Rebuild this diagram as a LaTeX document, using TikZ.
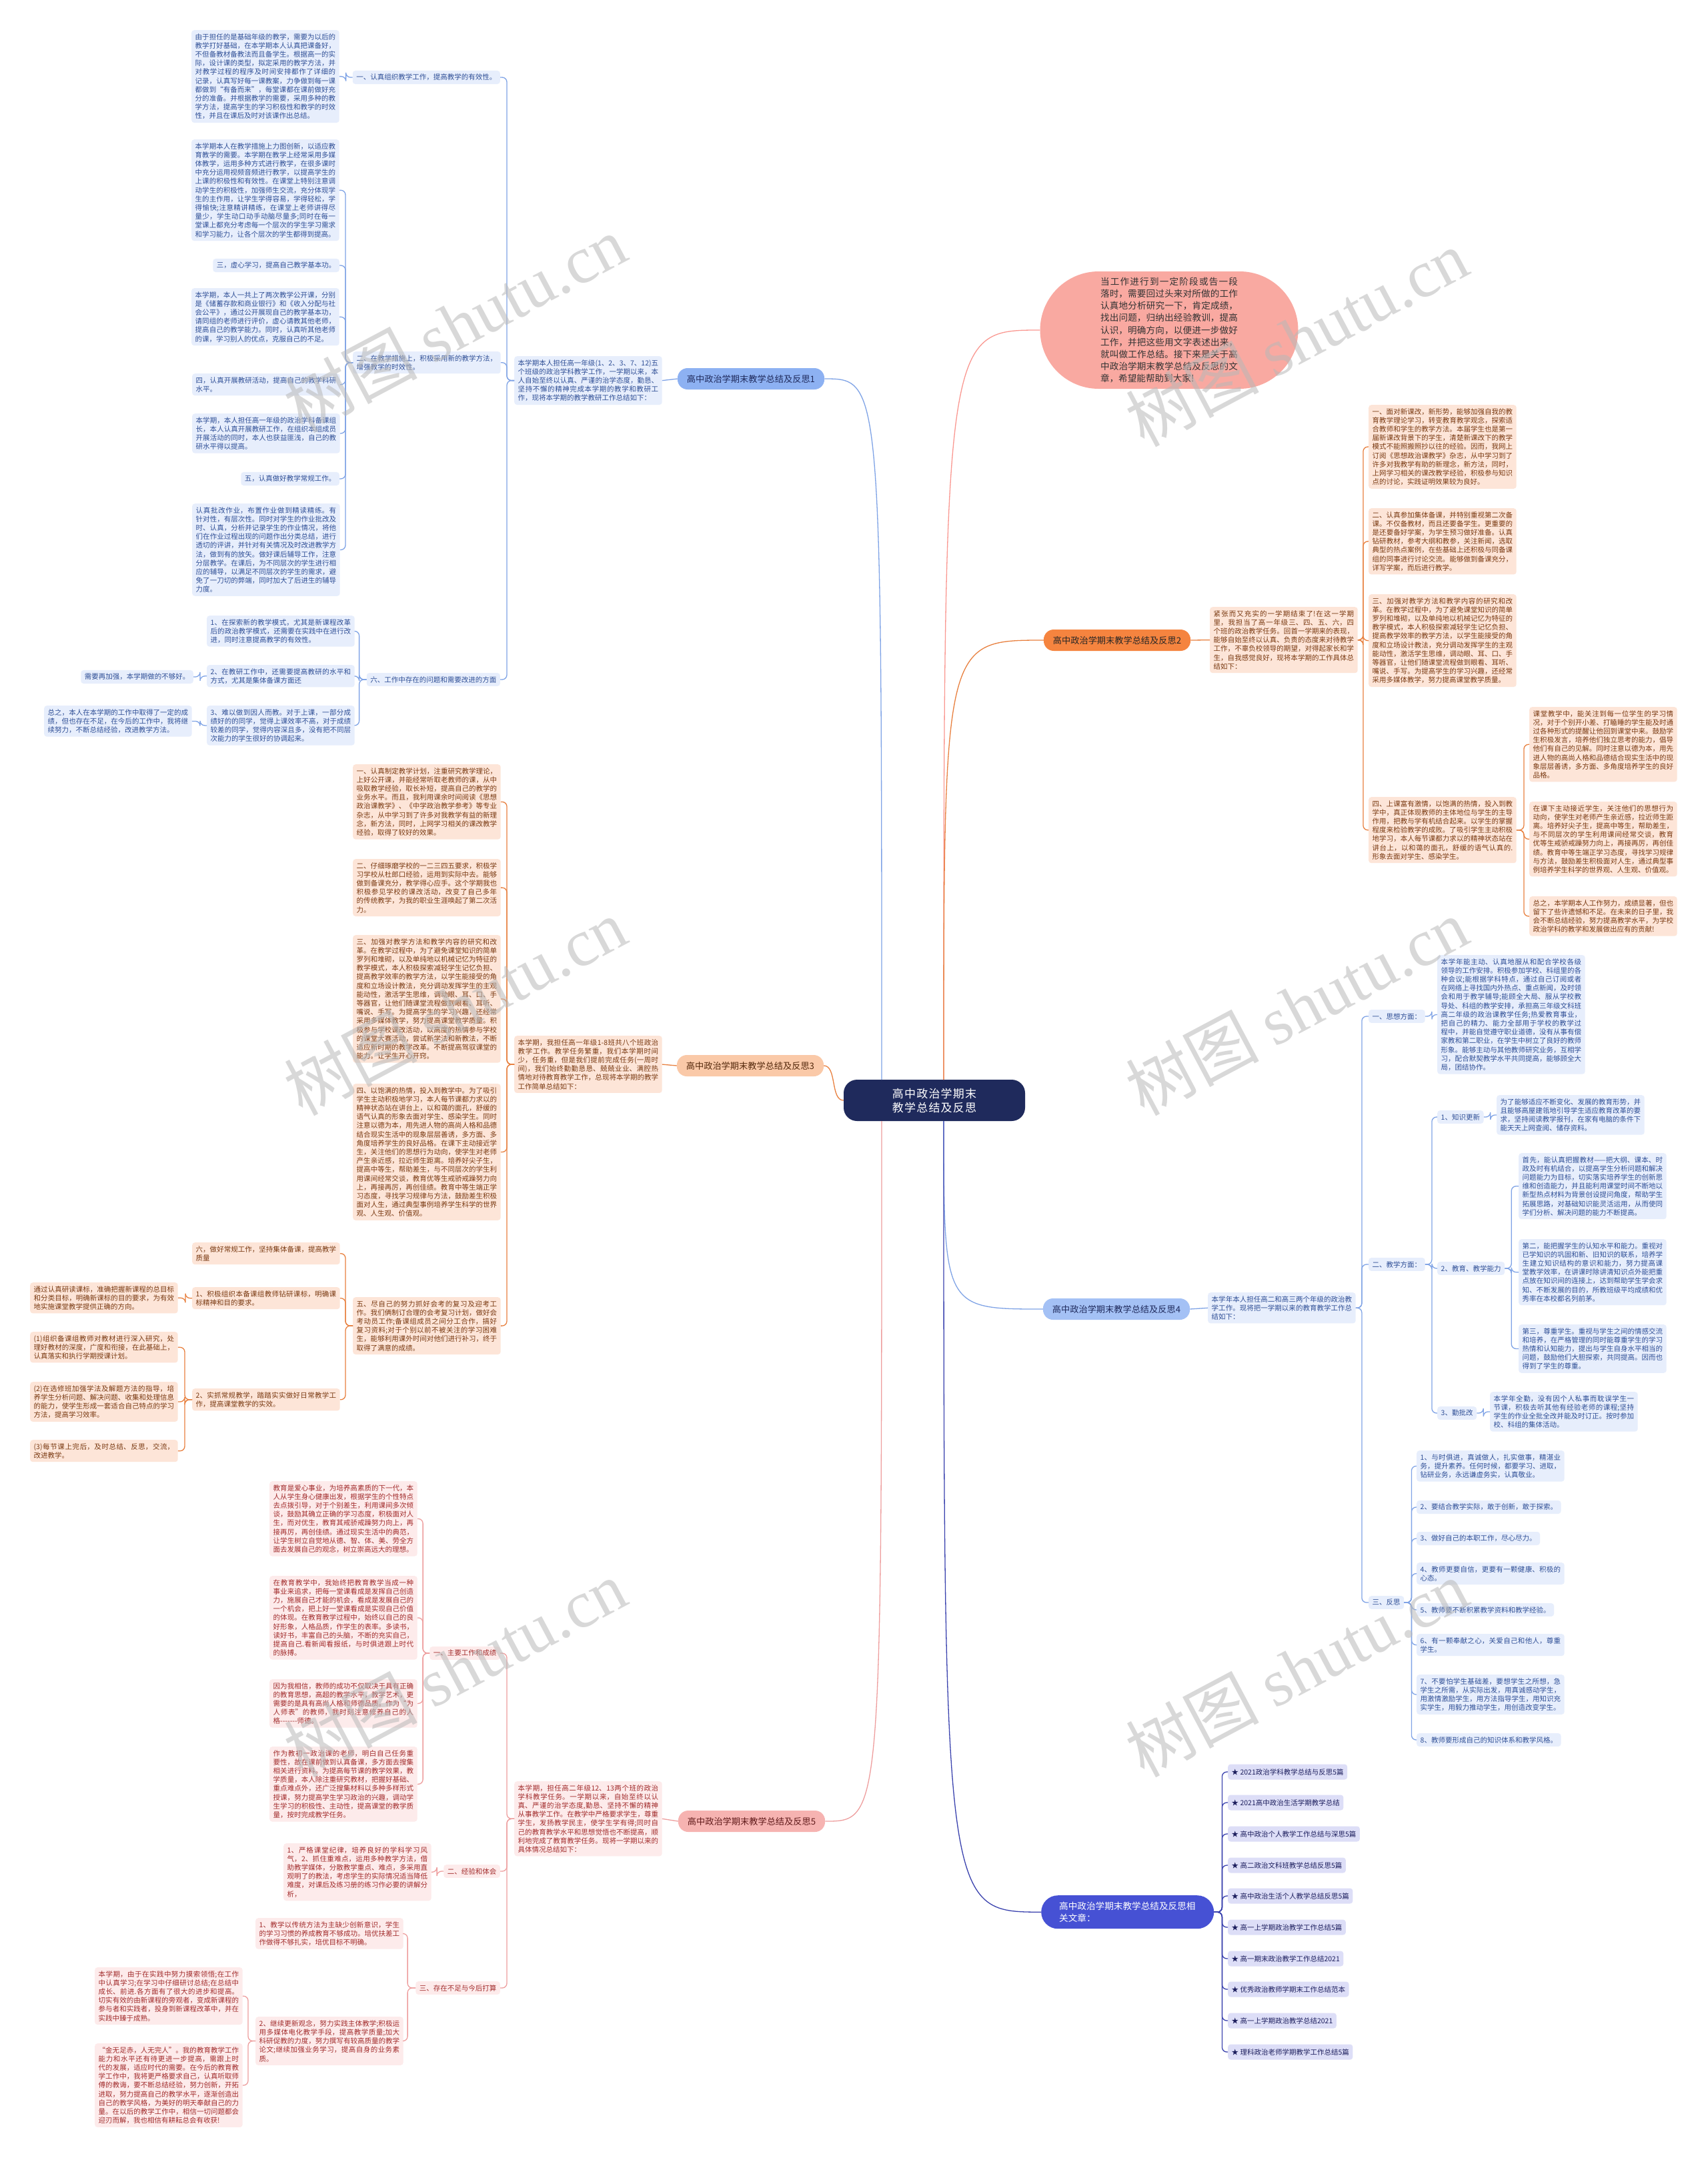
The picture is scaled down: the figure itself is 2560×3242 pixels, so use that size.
\documentclass[tikz,border=0pt]{standalone}
\usepackage{fontspec}
\setmainfont{Noto Sans CJK SC}
\newfontfamily\wmlatin{Liberation Serif}
\XeTeXlinebreaklocale "zh"
\XeTeXlinebreakskip = 0pt plus 1pt
\definecolor{bLine}{HTML}{7FA3E6}
\definecolor{bFill}{HTML}{E7EEFC}
\definecolor{bText}{HTML}{2F4F96}
\definecolor{bLab}{HTML}{8DB1F2}
\definecolor{oLine}{HTML}{E8803F}
\definecolor{oFill}{HTML}{FDE5D8}
\definecolor{oText}{HTML}{7A3A12}
\definecolor{oLab}{HTML}{F5843F}
\definecolor{oLabB}{HTML}{FAC9A8}
\definecolor{pLine}{HTML}{EE9E9E}
\definecolor{pFill}{HTML}{FDEBEB}
\definecolor{pText}{HTML}{A22C2C}
\definecolor{pLab}{HTML}{F6B3B1}
\definecolor{nav}{HTML}{1F2A5C}
\definecolor{rLab}{HTML}{4651D4}
\definecolor{rFill}{HTML}{DDDEF7}
\definecolor{rText}{HTML}{1D1F5E}
\definecolor{rLine}{HTML}{3A42AE}
\definecolor{bubc}{HTML}{F9A9A1}
\definecolor{wmc}{HTML}{B8B8B8}
\newcommand\fsA{\fontsize{10.5pt}{13.2pt}\selectfont}
\newcommand\fsL{\fontsize{13.2pt}{16pt}\selectfont}
\newcommand\fsB{\fontsize{13.6pt}{18.2pt}\selectfont}
\newcommand\fsC{\fontsize{17pt}{21pt}\selectfont}
\newcommand\fsW{\fontsize{100pt}{100pt}\selectfont}
\newcommand\lcn[4]{\draw[#1] (#2.west) -- ++(-#3,0) |- (#4.east);}
\newcommand\rcn[4]{\draw[#1] (#2.east) -- ++(#3,0) |- (#4.west);}
\tikzset{
  bx/.style={rounded corners=4pt, inner xsep=5.5pt, inner ysep=5pt, text width=210.5pt, align=justify, anchor=north west, font=\fsA},
  sl/.style={rounded corners=4pt, inner xsep=5.5pt, inner ysep=5pt, font=\fsA},
  cb/.style={fill=bFill, text=bText},
  co/.style={fill=oFill, text=oText},
  cp/.style={fill=pFill, text=pText},
  cr/.style={fill=rFill, text=rText, minimum height=23pt},
  lb/.style={draw=bLine, line width=1.3pt, rounded corners=7pt},
  lo/.style={draw=oLine, line width=1.3pt, rounded corners=7pt},
  lp/.style={draw=pLine, line width=1.3pt, rounded corners=7pt},
  lr/.style={draw=rLine, line width=1.3pt, rounded corners=7pt},
  brl/.style={rounded corners=15pt, inner xsep=14pt, inner ysep=8pt, font=\fsL, minimum height=32pt},
  ctr/.style={fill=nav, text=white, rounded corners=20pt, text width=206pt, align=center, inner xsep=33pt, inner ysep=6pt, minimum height=62pt, font=\fsC},
  wm/.style={rotate=28, text=wmc, opacity=0.55, font=\fsW}
}
\begin{document}
\begin{tikzpicture}[x=1pt,y=-1pt]
\fill[white] (0,0) rectangle (2560,3242);
\useasboundingbox (0,0) rectangle (2560,3242);

% ---------- center ----------
\node[ctr] (c) at (1401,1650) {高中政治学期末教学总结及反思};
\coordinate (cTL) at (1322,1619);
\coordinate (cBL) at (1322,1681);
\coordinate (cTR) at (1415,1619);
\coordinate (cBR) at (1415,1681);

% ---------- bubble ----------
\node[fill=bubc, text=black!80, rounded corners=88pt, minimum width=387pt, minimum height=176pt, text width=206pt, align=justify, font=\fsB, inner sep=0pt] (bub) at (1753,495) {当工作进行到一定阶段或告一段落时，需要回过头来对所做的工作认真地分析研究一下，肯定成绩，找出问题，归纳出经验教训，提高认识，明确方向，以便进一步做好工作，并把这些用文字表述出来，就叫做工作总结。接下来是关于高中政治学期末教学总结及反思的文章，希望能帮助到大家!};

% ---------- branch 1 ----------
\node[brl, fill=bLab, text=nav] (lab1) at (1126,568) {高中政治学期末教学总结及反思1};
\node[bx,cb] (intro1) at (771,534) {本学期本人担任高一年级(1、2、3、7、12)五个班级的政治学科教学工作，一学期以来，本人自始至终以认真、严谨的治学态度，勤恳、坚持不懈的精神完成本学期的教学和教研工作，现将本学期的教学教研工作总结如下：};
\node[sl,cb,anchor=east] (L1) at (750,116) {一、认真组织教学工作，提高教学的有效性。};
\node[bx,cb] (L2) at (529,527) {二、在教学措施上，积极采用新的教学方法，增强教学的时效性。};
\node[sl,cb,anchor=east] (L6) at (750,1019) {六、工作中存在的问题和需要改进的方面};
\node[bx,cb] (A1) at (287,45) {由于担任的是基础年级的教学，需要为以后的教学打好基础，在本学期本人认真把课备好，不但备教材备教法而且备学生。根据高一的实际，设计课的类型，拟定采用的教学方法，并对教学过程的程序及时间安排都作了详细的记录，认真写好每一课教案，力争做到每一课都做到“有备而来”，每堂课都在课前做好充分的准备。并根据教学的需要，采用多种的教学方法，提高学生的学习积极性和教学的时效性，并且在课后及时对该课作出总结。};
\node[bx,cb] (A2) at (287,209) {本学期本人在教学措施上力图创新，以适应教育教学的需要。本学期在教学上经常采用多媒体教学，运用多种方式进行教学，在很多课时中充分运用视频音频进行教学，以提高学生的上课的积极性和有效性。在课堂上特别注意调动学生的积极性，加强师生交流，充分体现学生的主作用，让学生学得容易，学得轻松，学得愉快;注意精讲精练，在课堂上老师讲得尽量少，学生动口动手动脑尽量多;同时在每一堂课上都充分考虑每一个层次的学生学习需求和学习能力，让各个层次的学生都得到提高。};
\node[sl,cb,anchor=east] (a3) at (509,398) {三，虚心学习，提高自己教学基本功。};
\node[bx,cb] (A4) at (287,432) {本学期，本人一共上了两次教学公开课，分别是《储蓄存款和商业银行》和《收入分配与社会公平》，通过公开展现自己的教学基本功，请同组的老师进行评价，虚心请教其他老师，提高自己的教学能力。同时，认真听其他老师的课，学习别人的优点，克服自己的不足。};
\node[bx,cb] (a5) at (288,560) {四，认真开展教研活动，提高自己的教学科研水平。};
\node[bx,cb] (B5) at (288,620) {本学期，本人担任高一年级的政治学科备课组长，本人认真开展教研工作，在组织本组成员开展活动的同时，本人也获益匪浅，自己的教研水平得以提高。};
\node[sl,cb,anchor=east] (b6) at (509,718) {五，认真做好教学常规工作。};
\node[bx,cb] (B7) at (288,755) {认真批改作业，布置作业做到精读精练。有针对性，有层次性。同时对学生的作业批改及时、认真，分析并记录学生的作业情况，将他们在作业过程出现的问题作出分类总结，进行透切的评讲，并针对有关情况及时改进教学方法，做到有的放矢。做好课后辅导工作，注意分层教学。在课后，为不同层次的学生进行相应的辅导，以满足不同层次的学生的需求，避免了一刀切的弊端，同时加大了后进生的辅导力度。};
\node[bx,cb] (C1) at (310,923) {1、在探索新的教学模式，尤其是新课程改革后的政治教学模式，还需要在实践中在进行改进，同时注意提高教学的有效性。};
\node[bx,cb] (C2) at (310,997) {2、在教研工作中，还需要提高教研的水平和方式，尤其是集体备课方面还};
\node[bx,cb] (C3) at (310,1058) {3、难以做到因人而教。对于上课，一部分成绩好的的同学，觉得上课效率不高，对于成绩较差的同学，觉得内容深且多，没有把不同层次能力的学生很好的协调起来。};
\node[sl,cb,anchor=east] (C2L) at (290,1015) {需要再加强，本学期做的不够好。};
\node[bx,cb] (C3L) at (66,1058) {总之，本人在本学期的工作中取得了一定的成绩，但也存在不足，在今后的工作中，我将继续努力，不断总结经验，改进教学方法。};

\draw[lb] (lab1.east) .. controls (1322,568) .. (cTL);
\draw[lb] (intro1.east) -- (lab1.west);
\foreach \c in {L1,L2,L6} {\lcn{lb}{intro1}{11}{\c}}
\lcn{lb}{L1}{10}{A1}
\foreach \c in {A2,a3,A4,a5,B5,b6,B7} {\lcn{lb}{L2}{11}{\c}}
\foreach \c in {C1,C2,C3} {\lcn{lb}{L6}{11}{\c}}
\lcn{lb}{C2}{10}{C2L}
\lcn{lb}{C3}{10}{C3L}

% ---------- branch 3 ----------
\node[brl, fill=oLabB, text=oText!70!black] (lab3) at (1125,1598) {高中政治学期末教学总结及反思3};
\node[bx,co] (intro3) at (771,1553) {本学期，我担任高一年级1-8班共八个班政治教学工作。教学任务繁重，我们本学期时间少，任务重，但是我们提前完成任务(一周时间)，我们始终勤勤恳恳、兢兢业业、满腔热情地对待教育教学工作，总现将本学期的教学工作简单总结如下：};
\node[bx,co] (D1) at (529,1146) {一、认真制定教学计划，注重研究教学理论，上好公开课，并能经常听取老教师的课，从中吸取教学经验，取长补短，提高自己的教学的业务水平。而且，我利用课余时间阅读《思想政治课教学》、《中学政治教学参考》等专业杂志，从中学习到了许多对我教学有益的新理念，新方法，同时，上网学习相关的课改教学经验，取得了较好的效果。};
\node[bx,co] (D2) at (529,1288) {二、仔细琢磨学校的一二三四五要求，积极学习学校从杜郎口经验，运用到实际中去。能够做到备课充分，教学得心应手。这个学期我也积极参见学校的课改活动，改变了自己多年的传统教学，为我的职业生涯唤起了第二次活力。};
\node[bx,co] (D3) at (529,1402) {三、加强对教学方法和教学内容的研究和改革。在教学过程中，为了避免课堂知识的简单罗列和堆砌，以及单纯地以机械记忆为特征的教学模式，本人积极探索减轻学生记忆负担、提高教学效率的教学方法，以学生能接受的角度和立场设计教法，充分调动发挥学生的主观能动性，激活学生思维，调动眼、耳、口、手等器官，让他们随课堂流程做到眼看、耳听、嘴说、手写。为提高学生的学习兴趣，还经常采用多媒体教学，努力提高课堂教学质量。积极参与学校课改活动，以高度的热情参与学校的课堂大赛活动，尝试新学法和新教法，不断适应新时期的教学改革。不断提高驾驭课堂的能力。让学生开心开窍。};
\node[bx,co] (D4) at (529,1625) {四、以饱满的热情，投入到教学中。为了吸引学生主动积极地学习，本人每节课都力求以的精神状态站在讲台上，以和蔼的面孔，舒缓的语气认真的形象去面对学生、感染学生。同时注意以德为本，用先进人物的高尚人格和品德结合现实生活中的现象层层善诱，多方面、多角度培养学生的良好品格。在课下主动接近学生，关注他们的思想行为动向，使学生对老师产生亲近感，拉近师生距离。培养好尖子生，提高中等生，帮助差生，与不同层次的学生利用课间经常交谈，教育优等生戒骄戒躁努力向上，再接再厉，再创佳绩。教育中等生端正学习态度，寻找学习规律与方法，鼓励差生积极面对人生，通过典型事例培养学生科学的世界观、人生观、价值观。};
\node[bx,co] (E5) at (529,1945) {五、尽自己的努力抓好会考的复习及迎考工作。我们俩制订合理的会考复习计划，做好会考动员工作;备课组成员之间分工合作，搞好复习资料;对于个别以前不被关注的学习困难生，能够利用课外时间对他们进行补习，终于取得了满意的成绩。};
\node[bx,co] (e6) at (288,1863) {六，做好常规工作，坚持集体备课，提高教学质量};
\node[bx,co] (E1) at (288,1930) {1、积极组织本备课组教师钻研课标，明确课标精神和目的要求。};
\node[bx,co] (E2) at (288,2082) {2、实抓常规教学，踏踏实实做好日常教学工作，提高课堂教学的实效。};
\node[bx,co] (E1L) at (45,1923) {通过认真研读课标，准确把握新课程的总目标和分类目标，明确新课标的目的要求，为有效地实施课堂教学提供正确的方向。};
\node[bx,co] (E2a) at (45,1997) {(1)组织备课组教师对教材进行深入研究，处理好教材的深度，广度和衔接，在此基础上，认真落实和执行学期授课计划。};
\node[bx,co] (E2b) at (45,2072) {(2)在选修班加强学法及解题方法的指导，培养学生分析问题、解决问题、收集和处理信息的能力，使学生形成一套适合自己特点的学习方法，提高学习效率。};
\node[bx,co] (E2c) at (45,2159) {(3)每节课上完后，及时总结、反思，交流，改进教学。};

\draw[lo] (lab3.east) .. controls (1255,1598) and (1245,1650) .. (c.west);
\draw[lo] (intro3.east) -- (lab3.west);
\foreach \c in {D1,D2,D3,D4,E5} {\lcn{lo}{intro3}{11}{\c}}
\foreach \c in {e6,E1,E2} {\lcn{lo}{E5}{11}{\c}}
\lcn{lo}{E1}{10}{E1L}
\foreach \c in {E2a,E2b,E2c} {\lcn{lo}{E2}{11}{\c}}

% ---------- branch 5 ----------
\node[brl, fill=pLab, text=pText!60!black] (lab5) at (1127,2731) {高中政治学期末教学总结及反思5};
\node[bx,cp] (intro5) at (771,2671) {本学期，担任高二年级12、13两个班的政治学科教学任务。一学期以来，自始至终以认真、严谨的治学态度,勤恳、坚持不懈的精神从事教学工作。在教学中严格要求学生，尊重学生，发扬教学民主，使学生学有得;同时自己的教育教学水平和思想觉悟也不断提高，顺利地完成了教育教学任务。现将一学期以来的具体情况总结如下：};
\node[sl,cp,anchor=east] (F1h) at (750,2479) {一、主要工作和成绩};
\node[sl,cp,anchor=east] (F2h) at (750,2806) {二、经验和体会};
\node[sl,cp,anchor=east] (F3h) at (750,2981) {三、存在不足与今后打算};
\node[bx,cp] (F1) at (404,2221) {教育是爱心事业，为培养高素质的下一代，本人从学生身心健康出发，根据学生的个性特点去点拨引导，对于个别差生，利用课间多次倾谈，鼓励其确立正确的学习态度，积极面对人生，而对优生，教育其戒骄戒躁努力向上，再接再厉，再创佳绩。通过现实生活中的典范，让学生树立自觉地从德、智、体、美、劳全方面去发展自己的观念，树立崇高远大的理想。};
\node[bx,cp] (F2) at (404,2363) {在教育教学中，我始终把教育教学当成一种事业来追求，把每一堂课看成是发挥自己创造力，施展自己才能的机会，看成是发展自己的一个机会，把上好一堂课看成是实现自己价值的体现。在教育教学过程中，始终以自己的良好形象，人格品质，作学生的表率。多读书，读好书，丰富自己的头脑，不断的充实自己，提高自己.看新闻看报纸，与时俱进跟上时代的脉搏。};
\node[bx,cp] (F3) at (404,2518) {因为我相信，教师的成功不仅取决于具有正确的教育思想，高超的教学水平，教学艺术，更需要的是具有高尚人格和师德品质。作为“为人师表”的教师，我时刻注意修养自己的人格-{}-{}-{}-{}-{}-{}-师德。};
\node[bx,cp] (F4) at (404,2619) {作为教初一政治课的老师，明白自己任务重要性，故在课前做到认真备课，多方面去搜集相关进行资料。为提高每节课的教学效果，教学质量，本人除注重研究教材，把握好基础、重点难点外，还广泛搜集材料以多种多样形式授课，努力提高学生学习政治的兴趣，调动学生学习的积极性、主动性，提高课堂的教学质量，按时完成教学任务。};
\node[bx,cp] (G1) at (425,2764) {1、严格课堂纪律，培养良好的学科学习风气，2、抓住重难点，运用多种教学方法，借助教学媒体，分散教学重点、难点，多采用直观明了的教法，考虑学生的实际情况适当降低难度，对课后及练习册的练习作必要的讲解分析，};
\node[bx,cp] (H1) at (383,2876) {1、教学以传统方法为主缺少创新意识，学生的学习习惯的养成教育不够成功。培优扶差工作做得不够扎实，培优目标不明确。};
\node[bx,cp] (H2) at (383,3024) {2、继续更新观念，努力实践主体教学;积极运用多媒体电化教学手段，提高教学质量;加大科研促教的力度，努力撰写有较高质量的教学论文;继续加强业务学习，提高自身的业务素质。};
\node[bx,cp] (I1) at (142,2950) {本学期，由于在实践中努力摸索领悟;在工作中认真学习;在学习中仔细研讨总结;在总结中成长、前进.各方面有了很大的进步和提高。切实有效的由新课程的旁观者，变成新课程的参与者和实践者，投身到新课程改革中，并在实践中臻于成熟。};
\node[bx,cp] (I2) at (142,3064) {“金无足赤，人无完人”。我的教育教学工作能力和水平还有待更进一步提高，需跟上时代的发展，适应时代的需要。在今后的教育教学工作中，我将更严格要求自己，认真听取师傅的教诲，要不断总结经验，努力创新，开拓进取，努力提高自己的教学水平，逐渐创造出自己的教学风格，为美好的明天奉献自己的力量。在以后的教学工作中，相信一切问题都会迎刃而解，我也相信有耕耘总会有收获!};

\draw[lp] (lab5.east) .. controls (1322,2731) .. (cBL);
\draw[lp] (intro5.east) -- (lab5.west);
\foreach \c in {F1h,F2h,F3h} {\lcn{lp}{intro5}{11}{\c}}
\foreach \c in {F1,F2,F3,F4} {\lcn{lp}{F1h}{10}{\c}}
\lcn{lp}{F2h}{10}{G1}
\foreach \c in {H1,H2} {\lcn{lp}{F3h}{12}{\c}}
\foreach \c in {I1,I2} {\lcn{lp}{H2}{11}{\c}}

% ---------- branch 2 ----------
\node[brl, fill=oLab, text=black!85] (lab2) at (1675,960) {高中政治学期末教学总结及反思2};
\node[bx,co] (intro2) at (1814,910) {紧张而又充实的一学期结束了!在这一学期里，我担当了高一年级三、四、五、六，四个班的政治教学任务。回首一学期来的表现，能够自始至终以认真、负责的态度来对待教学工作，不辜负校领导的期望，对得起家长和学生，自我感觉良好，现将本学期的工作具体总结如下：};
\node[bx,co] (J1) at (2052,607) {一、面对新课改，新形势，能够加强自我的教育教学理论学习，转变教育教学观念，探索适合教师和学生的教学方法。本届学生也是第一届新课改背景下的学生，清楚新课改下的教学模式不能照搬照抄以往的经验。因而，我网上订阅《思想政治课教学》杂志，从中学习到了许多对我教学有助的新理念，新方法，同时，上网学习相关的课改教学经验，积极参与知识点的讨论，实践证明效果较为良好。};
\node[bx,co] (J2) at (2052,762) {二、认真参加集体备课，并特别重视第二次备课。不仅备教材，而且还要备学生。更重要的是还要备好学案，为学生预习做好准备。认真钻研教材，参考大纲和教参，关注新闻，选取典型的热点案例，在些基础上还积极与同备课组的同事进行讨论交流。能够做到备课充分，详写学案，而后进行教学。};
\node[bx,co] (J3) at (2052,891) {三、加强对教学方法和教学内容的研究和改革。在教学过程中，为了避免课堂知识的简单罗列和堆砌，以及单纯地以机械记忆为特征的教学模式，本人积极探索减轻学生记忆负担、提高教学效率的教学方法，以学生能接受的角度和立场设计教法，充分调动发挥学生的主观能动性，激活学生思维，调动眼、耳、口、手等器官，让他们随课堂流程做到眼看、耳听、嘴说、手写。为提高学生的学习兴趣，还经常采用多媒体教学，努力提高课堂教学质量。};
\node[bx,co] (J4) at (2052,1195) {四、上课富有激情，以饱满的热情，投入到教学中，真正体现教师的主体地位与学生的主导作用，把教与学有机结合起来。以学生的掌握程度来检验教学的成败。了吸引学生主动积极地学习，本人每节课都力求以的精神状态站在讲台上，以和蔼的面孔，舒缓的语气认真的.形象去面对学生、感染学生。};
\node[bx,co] (K1) at (2293,1060) {课堂教学中，能关注到每一位学生的学习情况，对于个别开小差、打瞌睡的学生能及时通过各种形式的提醒让他回到课堂中来。鼓励学生积极发言，培养他们独立思考的能力，倡导他们有自己的见解。同时注意以德为本，用先进人物的高尚人格和品德结合现实生活中的现象层层善诱，多方面、多角度培养学生的良好品格。};
\node[bx,co] (K2) at (2293,1202) {在课下主动接近学生，关注他们的思想行为动向，使学生对老师产生亲近感，拉近师生距离。培养好尖子生，提高中等生，帮助差生，与不同层次的学生利用课间经常交谈，教育优等生戒骄戒躁努力向上，再接再厉，再创佳绩。教育中等生端正学习态度，寻找学习规律与方法，鼓励差生积极面对人生，通过典型事例培养学生科学的世界观、人生观、价值观。};
\node[bx,co] (K3) at (2293,1344) {总之，本学期本人工作努力，成绩显著，但也留下了些许遗憾和不足。在未来的日子里，我会不断总结经验，努力提高教学水平，为学校政治学科的教学和发展做出应有的贡献!};

\draw[lp, draw=bubc!90!red] (cTR) .. controls (1415,495) .. (bub.west);
\draw[lo] (cTR) .. controls (1415,960) .. (lab2.west);
\draw[lo] (lab2.east) -- (intro2.west);
\foreach \c in {J1,J2,J3,J4} {\rcn{lo}{intro2}{8}{\c}}
\foreach \c in {K1,K2,K3} {\rcn{lo}{J4}{11}{\c}}

% ---------- branch 4 ----------
\node[brl, fill=bLab!80, text=nav] (lab4) at (1674,1963) {高中政治学期末教学总结及反思4};
\node[bx,cb] (intro4) at (1811,1938) {本学年本人担任高二和高三两个年级的政治教学工作。现将把一学期以来的教育教学工作总结如下：};
\node[sl,cb,anchor=west] (Q1) at (2052,1524) {一、思想方面：};
\node[sl,cb,anchor=west] (Q2) at (2052,1896) {二、教学方面：};
\node[sl,cb,anchor=west] (Q3) at (2052,2403) {三、反思};
\node[bx,cb] (Lb) at (2155,1432) {本学年能主动、认真地服从和配合学校各级领导的工作安排。积极参加学校、科组里的各种会议;能根据学科特点，通过自己订阅或者在网络上寻找国内外热点、重点新闻，及时领会和用于教学辅导;能顾全大局、服从学校教导处、科组的教学安排，承担高三年级文科班高二年级的政治课教学任务;热爱教育事业，把自己的精力、能力全部用于学校的教学过程中，并能自觉遵守职业道德，没有从事有偿家教和第二职业，在学生中树立了良好的教师形象。能够主动与其他教师研究业务，互相学习，配合默契教学水平共同提高，能够顾全大局，团结协作。};
\node[sl,cb,anchor=west] (R1) at (2155,1675) {1、知识更新};
\node[sl,cb,anchor=west] (R2) at (2155,1902) {2、教育、教学能力};
\node[sl,cb,anchor=west] (R3) at (2155,2119) {3、勤批改};
\node[bx,cb] (M1) at (2244,1642) {为了能够适应不断变化、发展的教育形势，并且能够高屋建瓴地引导学生适应教育改革的要求，坚持阅读教学报刊，在家有电脑的条件下能天天上网查阅、储存资料。};
\node[bx,cb] (N1) at (2277,1729) {首先，能认真把握教材——把大纲、课本、时政及时有机结合，以提高学生分析问题和解决问题能力为目标，切实落实培养学生的创新思维和创造能力，并且能利用课堂时间不断地以新型热点材料为背景创设提问角度，帮助学生拓展思路，对基础知识能灵活运用，从而使同学们分析、解决问题的能力不断提高。};
\node[bx,cb] (N2) at (2277,1858) {第二，能把握学生的认知水平和能力。重视对已学知识的巩固和新、旧知识的联系，培养学生建立知识结构的意识和能力，努力提高课堂教学效率，在讲课时除讲清知识点外能把重点放在知识间的连接上，达到帮助学生学会求知、不断发展的目的，所教班级平均成绩和优秀率在本校都名列前茅。};
\node[bx,cb] (N3) at (2277,1986) {第三，尊重学生。重视与学生之间的情感交流和培养，在严格管理的同时能尊重学生的学习热情和认知能力，提出与学生自身水平相当的问题，鼓励他们大胆探索，共同提高。因而也得到了学生的尊重。};
\node[bx,cb] (O1) at (2234,2087) {本学年全勤，没有因个人私事而耽误学生一节课，积极去听其他有经验老师的课程;坚持学生的作业全批全改并能及时订正。按时参加校、科组的集体活动。};
\node[bx,cb] (P1) at (2124,2175) {1、与时俱进，真诚做人，扎实做事，精湛业务，提升素养。任何时候，都要学习、进取，钻研业务，永远谦虚务实，认真敬业。};
\node[sl,cb,anchor=west] (P2) at (2124,2260) {2、要结合教学实际，敢于创新，敢于探索。};
\node[sl,cb,anchor=west] (P3) at (2124,2307) {3、做好自己的本职工作，尽心尽力。};
\node[bx,cb] (P4) at (2124,2343) {4、教师更要自信，更要有一颗健康、积极的心态。};
\node[sl,cb,anchor=west] (P5) at (2124,2414) {5、教师要不断积累教学资料和教学经验。};
\node[bx,cb] (P6) at (2124,2450) {6、有一颗奉献之心，关爱自己和他人，尊重学生。};
\node[bx,cb] (P7) at (2124,2511) {7、不要怕学生基础差，要想学生之所想，急学生之所需，从实际出发，用真诚感动学生，用激情激励学生，用方法指导学生，用知识充实学生，用毅力推动学生，用创造改变学生。};
\node[sl,cb,anchor=west] (P8) at (2124,2609) {8、教师要形成自己的知识体系和教学风格。};

\draw[lb] (cBR) .. controls (1415,1963) .. (lab4.west);
\draw[lb] (lab4.east) -- (intro4.west);
\foreach \c in {Q1,Q2,Q3} {\rcn{lb}{intro4}{9}{\c}}
\rcn{lb}{Q1}{10}{Lb}
\foreach \c in {R1,R2,R3} {\rcn{lb}{Q2}{10}{\c}}
\rcn{lb}{R1}{10}{M1}
\foreach \c in {N1,N2,N3} {\rcn{lb}{R2}{10}{\c}}
\rcn{lb}{R3}{10}{O1}
\foreach \c in {P1,P2,P3,P4,P5,P6,P7,P8} {\rcn{lb}{Q3}{11}{\c}}

% ---------- related ----------
\node[fill=rLab, text=white, rounded corners=25pt, text width=205pt, align=left, inner xsep=27pt, inner ysep=6pt, minimum height=50pt, font=\fsB, anchor=north west] (labR) at (1561,2842) {高中政治学期末教学总结及反思相关文章：};
\node[sl,cr,anchor=west] (r1) at (1841,2657) {★ 2021政治学科教学总结与反思5篇};
\node[sl,cr,anchor=west] (r2) at (1841,2703) {★ 2021高中政治生活学期教学总结};
\node[sl,cr,anchor=west] (r3) at (1841,2750) {★ 高中政治个人教学工作总结与深思5篇};
\node[sl,cr,anchor=west] (r4) at (1841,2797) {★ 高二政治文科班教学总结反思5篇};
\node[sl,cr,anchor=west] (r5) at (1841,2843) {★ 高中政治生活个人教学总结反思5篇};
\node[sl,cr,anchor=west] (r6) at (1841,2890) {★ 高一上学期政治教学工作总结5篇};
\node[sl,cr,anchor=west] (r7) at (1841,2937) {★ 高一期末政治教学工作总结2021};
\node[sl,cr,anchor=west] (r8) at (1841,2983) {★ 优秀政治教师学期末工作总结范本};
\node[sl,cr,anchor=west] (r9) at (1841,3030) {★ 高一上学期政治教学总结2021};
\node[sl,cr,anchor=west] (r10) at (1841,3077) {★ 理科政治老师学期教学工作总结5篇};
\draw[lr] (cBR) .. controls (1415,2867) .. (labR.west);
\foreach \c in {r1,r2,r3,r4,r5,r6,r7,r8,r9,r10} {\rcn{lr}{labR}{12}{\c}}

% ---------- watermarks ----------
\foreach \wx/\wy [count=\i] in {682/486, 1944/507, 682/1510, 1944/1510, 682/2502, 1944/2502}
  \node[wm] (wm\i) at (\wx,\wy) {树图 {\wmlatin shutu.cn}};
\end{tikzpicture}
\end{document}
